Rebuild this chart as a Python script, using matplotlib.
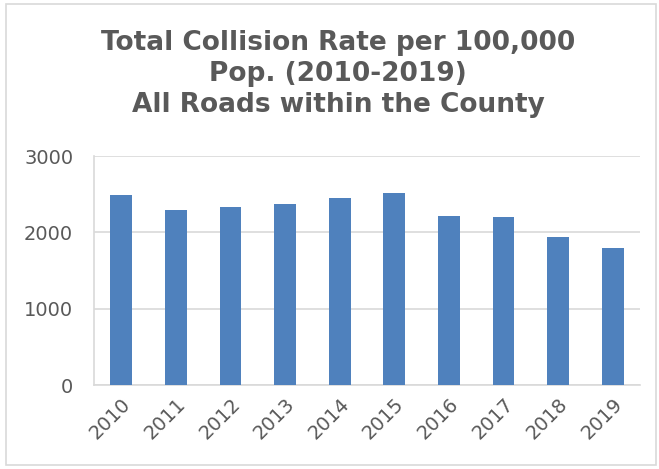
import matplotlib
matplotlib.use('Agg')
import matplotlib.pyplot as plt
from matplotlib.patches import Rectangle

years = ['2010', '2011', '2012', '2013', '2014', '2015', '2016', '2017', '2018', '2019']
rates = [2489, 2293, 2328, 2376, 2454, 2515, 2214, 2201, 1939, 1790]
yticks = [0, 1000, 2000, 3000]

title = 'Total Collision Rate per 100,000\nPop. (2010-2019)\nAll Roads within the County'

txt = '#595959'
grid = '#D9D9D9'

fig = plt.figure(figsize=(6.59, 4.69), dpi=100)
ax = fig.add_axes([94 / 659, 1 - 385 / 469, 546 / 659, 229 / 469])

x = range(len(years))
ax.bar(x, rates, width=0.4, color='#4F81BD', zorder=3)

ax.set_xlim(-0.5, len(years) - 0.5)
ax.set_ylim(0, 3000)
ax.set_yticks(yticks)
ax.set_xticks(list(x))
ax.set_xticklabels(years, rotation=45, ha='right', rotation_mode='anchor')
ax.tick_params(axis='both', length=0, labelsize=14, colors=txt)
ax.tick_params(axis='y', pad=15)
ax.tick_params(axis='x', pad=7)

ax.yaxis.grid(True, color=grid, linewidth=1.2, zorder=0)
for s in ['top', 'right']:
    ax.spines[s].set_visible(False)
for s in ['left', 'bottom']:
    ax.spines[s].set_color(grid)
    ax.spines[s].set_linewidth(1.2)

fig.text(338 / 659, 1 - 74 / 469, title, ha='center', va='center',
         fontsize=19, fontweight='bold', color=txt, linespacing=1.24)

# outer chart frame
fig.patches.append(Rectangle((6 / 659, 4 / 469), 650 / 659, 461 / 469,
                             transform=fig.transFigure, fill=False,
                             edgecolor=grid, linewidth=1.2))

fig.savefig('out.png', dpi=100)
